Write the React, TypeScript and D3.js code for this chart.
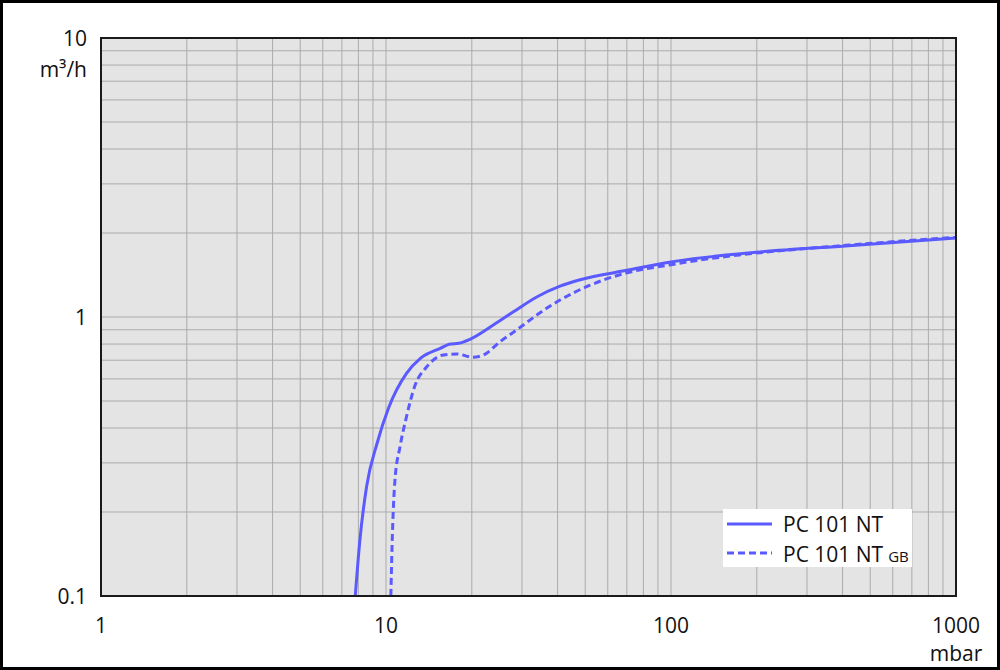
import React from "react";
import * as d3 from "d3";

const pressureSolid = [7.8, 8.1, 8.55, 9.3, 10.2, 11.8, 13.2, 15.5, 16.8, 18, 19.7, 23.8, 28, 33.8, 40.8, 48, 70, 100, 205, 420, 1000];
const flowSolid = [0.1, 0.159, 0.247, 0.352, 0.471, 0.628, 0.711, 0.772, 0.8, 0.805, 0.832, 0.936, 1.044, 1.18, 1.29, 1.36, 1.47, 1.575, 1.71, 1.8, 1.92];

const pressureGB = [10.4, 10.5, 10.75, 11.2, 11.8, 12.6, 13.9, 15.9, 17.7, 20.2, 22, 25.1, 28.7, 33.8, 40.8, 52, 70, 100, 126, 175, 420, 1000];
const flowGB = [0.1, 0.15, 0.26, 0.343, 0.439, 0.563, 0.663, 0.731, 0.737, 0.717, 0.731, 0.815, 0.898, 1.016, 1.15, 1.3, 1.44, 1.54, 1.6, 1.67, 1.81, 1.93];

const xTicks = [1, 10, 100, 1000];
const yTicks = [0.1, 1, 10];
const xUnit = "mbar";
const yUnit = "m³/h";
const seriesNames = ["PC 101 NT", "PC 101 NT"];
const seriesSub = ["", "GB"];

const W = 1000, H = 670;
const L = 101, R = 956, T = 38, B = 596;
const COLOR = "#5a5aff";
const FONT = "'Open Sans', 'Noto Sans', sans-serif";

export default function App() {
  const x = d3.scaleLog().domain([1, 1000]).range([L, R]);
  const y = d3.scaleLog().domain([0.1, 10]).range([B, T]);

  const minorX: number[] = [];
  [1, 10, 100].forEach((d) => { for (let k = 1; k <= 9; k++) if (d * k > 1) minorX.push(d * k); });
  const minorY: number[] = [];
  [0.1, 1].forEach((d) => { for (let k = 1; k <= 9; k++) if (d * k > 0.1 + 1e-9) minorY.push(d * k); });

  const line = d3.line<[number, number]>()
    .x((d) => x(d[0]))
    .y((d) => y(d[1]))
    .curve(d3.curveMonotoneX);

  const solid = line(pressureSolid.map((p, i) => [p, flowSolid[i]]) as [number, number][]) || "";
  const dashed = line(pressureGB.map((p, i) => [p, flowGB[i]]) as [number, number][]) || "";

  return (
    <svg width={W} height={H} style={{ position: "absolute", left: 0, top: 0, background: "#fff" }} fontFamily={FONT}>
      <defs>
        <clipPath id="plot">
          <rect x={L} y={T} width={R - L} height={B - T} />
        </clipPath>
      </defs>
      <rect x={1.5} y={1.5} width={W - 3} height={H - 3} fill="#fff" stroke="#000" strokeWidth={3} />
      <rect x={L} y={T} width={R - L} height={B - T} fill="#e4e4e4" />
      {minorX.map((v) => (
        <line key={"x" + v} x1={x(v)} x2={x(v)} y1={T} y2={B} stroke="#ababab" strokeWidth={1} />
      ))}
      {minorY.map((v) => (
        <line key={"y" + v} x1={L} x2={R} y1={y(v)} y2={y(v)} stroke="#ababab" strokeWidth={1} />
      ))}
      <g clipPath="url(#plot)">
        <path d={solid} fill="none" stroke={COLOR} strokeWidth={3} />
        <path d={dashed} fill="none" stroke={COLOR} strokeWidth={3} strokeDasharray="7,4" />
      </g>
      <rect x={L} y={T} width={R - L} height={B - T} fill="none" stroke="#1a1a1a" strokeWidth={2} />

      {yTicks.map((v) => (
        <text key={"yt" + v} x={87} y={y(v) + 8} textAnchor="end" fontSize={21} fill="#111">{String(v)}</text>
      ))}
      <text x={87} y={77} textAnchor="end" fontSize={21} fill="#111">{yUnit}</text>
      {xTicks.map((v) => (
        <text key={"xt" + v} x={x(v)} y={633} textAnchor="middle" fontSize={21} fill="#111">{String(v)}</text>
      ))}
      <text x={R} y={661} textAnchor="middle" fontSize={21} fill="#111">{xUnit}</text>

      <rect x={723} y={509} width={189} height={58} fill="#fff" />
      <line x1={727} x2={772} y1={524} y2={524} stroke={COLOR} strokeWidth={3} />
      <line x1={727} x2={772} y1={553} y2={553} stroke={COLOR} strokeWidth={3} strokeDasharray="7,4" />
      <text x={783} y={532} fontSize={21} fill="#111">{seriesNames[0]}</text>
      <text x={783} y={562} fontSize={21} fill="#111">
        {seriesNames[1]}
        <tspan fontSize={15} dx={5}>{seriesSub[1]}</tspan>
      </text>
    </svg>
  );
}
